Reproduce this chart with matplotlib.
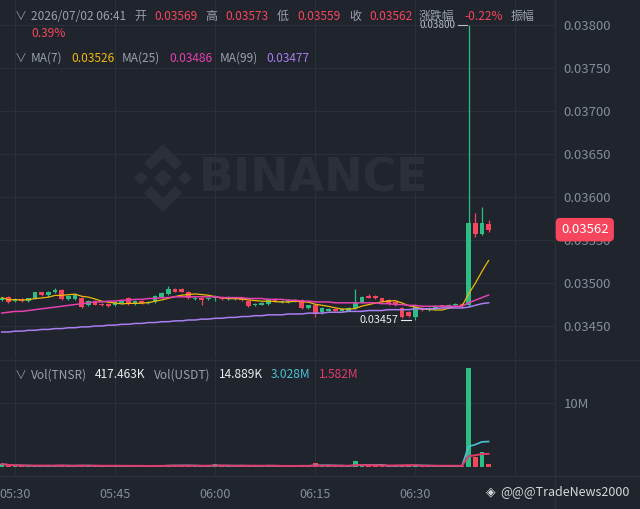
import matplotlib
matplotlib.use("Agg")
import matplotlib.pyplot as plt
from matplotlib.patches import RegularPolygon, Polygon
import numpy as np
import pandas as pd

plt.rcParams['font.family'] = ['Noto Sans CJK SC', 'DejaVu Sans']

# 1-minute candles, 05:28 .. 06:41
opens = [0.03480, 0.03484, 0.03479, 0.03481, 0.03479, 0.03482, 0.03489, 0.03486, 0.03489, 0.03492,
         0.03481, 0.03481, 0.03483, 0.03474, 0.03479, 0.03476, 0.03476, 0.03474, 0.03477, 0.03483,
         0.03476, 0.03479, 0.03477, 0.03478, 0.03484, 0.03487, 0.03493, 0.03493, 0.03490, 0.03481,
         0.03483, 0.03481, 0.03482, 0.03484, 0.03481, 0.03481, 0.03483, 0.03479, 0.03474, 0.03475,
         0.03476, 0.03481, 0.03478, 0.03478, 0.03479, 0.03480, 0.03471, 0.03474, 0.03466, 0.03468,
         0.03470, 0.03468, 0.03468, 0.03471, 0.03478, 0.03485, 0.03485, 0.03482, 0.03480, 0.03478,
         0.03471, 0.03466, 0.03461, 0.03471, 0.03469, 0.03470, 0.03474, 0.03473, 0.03474, 0.03476,
         0.03474, 0.03570, 0.03557, 0.03569]
closes = [0.03483, 0.03478, 0.03481, 0.03479, 0.03482, 0.03489, 0.03486, 0.03490, 0.03492, 0.03481,
          0.03485, 0.03486, 0.03472, 0.03479, 0.03475, 0.03474, 0.03473, 0.03478, 0.03479, 0.03476,
          0.03479, 0.03477, 0.03478, 0.03485, 0.03488, 0.03493, 0.03490, 0.03490, 0.03482, 0.03483,
          0.03480, 0.03482, 0.03482, 0.03481, 0.03482, 0.03483, 0.03480, 0.03473, 0.03476, 0.03477,
          0.03481, 0.03479, 0.03479, 0.03480, 0.03480, 0.03471, 0.03474, 0.03464, 0.03471, 0.03470,
          0.03468, 0.03470, 0.03471, 0.03478, 0.03484, 0.03483, 0.03482, 0.03479, 0.03476, 0.03474,
          0.03460, 0.03462, 0.03472, 0.03469, 0.03471, 0.03473, 0.03473, 0.03475, 0.03476, 0.03473,
          0.03570, 0.03557, 0.03570, 0.03562]
highs = [0.03484, 0.03485, 0.03482, 0.03482, 0.03483, 0.03490, 0.03490, 0.03491, 0.03494, 0.03493,
         0.03486, 0.03488, 0.03484, 0.03480, 0.03480, 0.03477, 0.03477, 0.03479, 0.03480, 0.03484,
         0.03480, 0.03480, 0.03479, 0.03486, 0.03489, 0.03496, 0.03494, 0.03494, 0.03491, 0.03484,
         0.03484, 0.03483, 0.03486, 0.03485, 0.03485, 0.03484, 0.03484, 0.03480, 0.03477, 0.03478,
         0.03483, 0.03482, 0.03480, 0.03481, 0.03481, 0.03481, 0.03475, 0.03475, 0.03472, 0.03471,
         0.03471, 0.03471, 0.03472, 0.03493, 0.03485, 0.03487, 0.03486, 0.03483, 0.03481, 0.03479,
         0.03472, 0.03467, 0.03473, 0.03472, 0.03472, 0.03474, 0.03475, 0.03476, 0.03477, 0.03477,
         0.03800, 0.03581, 0.03588, 0.03573]
lows = [0.03479, 0.03477, 0.03478, 0.03478, 0.03478, 0.03481, 0.03485, 0.03484, 0.03488, 0.03480,
        0.03480, 0.03480, 0.03471, 0.03473, 0.03474, 0.03473, 0.03472, 0.03473, 0.03476, 0.03475,
        0.03475, 0.03476, 0.03476, 0.03477, 0.03483, 0.03486, 0.03489, 0.03489, 0.03481, 0.03480,
        0.03474, 0.03480, 0.03479, 0.03480, 0.03480, 0.03480, 0.03479, 0.03472, 0.03473, 0.03474,
        0.03475, 0.03478, 0.03477, 0.03477, 0.03478, 0.03470, 0.03470, 0.03461, 0.03464, 0.03467,
        0.03467, 0.03467, 0.03467, 0.03470, 0.03477, 0.03482, 0.03481, 0.03478, 0.03475, 0.03473,
        0.03459, 0.03460, 0.03457, 0.03468, 0.03468, 0.03469, 0.03472, 0.03472, 0.03473, 0.03472,
        0.03472, 0.03553, 0.03556, 0.03559]
# volume in millions TNSR
volumes = [0.45, 0.22, 0.12, 0.18, 0.15, 0.25, 0.20, 0.16, 0.22, 0.30,
           0.18, 0.15, 0.28, 0.20, 0.14, 0.12, 0.18, 0.15, 0.20, 0.25,
           0.14, 0.10, 0.12, 0.22, 0.28, 0.35, 0.20, 0.15, 0.25, 0.18,
           0.14, 0.12, 0.45, 0.18, 0.15, 0.12, 0.20, 0.28, 0.16, 0.14,
           0.22, 0.15, 0.12, 0.14, 0.12, 0.30, 0.14, 0.55, 0.20, 0.15,
           0.12, 0.10, 0.15, 0.95, 0.25, 0.18, 0.15, 0.14, 0.20, 0.22,
           0.30, 0.25, 0.28, 0.15, 0.12, 0.14, 0.12, 0.15, 0.16, 0.12,
           15.5, 1.55, 2.3, 0.42]
# MA(25) and MA(99) (history before 05:28 not visible)
ma25 = [0.03465, 0.03466, 0.03467, 0.03467, 0.03468, 0.03469, 0.03470, 0.03471, 0.03472, 0.03473,
        0.03474, 0.03475, 0.03476, 0.03477, 0.03478, 0.03478, 0.03479, 0.03479, 0.03480, 0.03480,
        0.03481, 0.03481, 0.03482, 0.03482, 0.03483, 0.03483, 0.03484, 0.03484, 0.03484, 0.03484,
        0.03484, 0.03484, 0.03484, 0.03483, 0.03483, 0.03483, 0.03483, 0.03482, 0.03482, 0.03482,
        0.03481, 0.03481, 0.03481, 0.03480, 0.03480, 0.03479, 0.03479, 0.03478, 0.03478, 0.03478,
        0.03477, 0.03477, 0.03477, 0.03477, 0.03477, 0.03477, 0.03477, 0.03476, 0.03476, 0.03475,
        0.03475, 0.03474, 0.03474, 0.03473, 0.03473, 0.03473, 0.03473, 0.03473, 0.03473, 0.03473,
        0.03477, 0.03480, 0.03483, 0.03486]
ma99 = [0.03443, 0.03443, 0.03444, 0.03444, 0.03445, 0.03445, 0.03446, 0.03446, 0.03447, 0.03447,
        0.03448, 0.03448, 0.03449, 0.03449, 0.03450, 0.03450, 0.03451, 0.03451, 0.03452, 0.03452,
        0.03453, 0.03453, 0.03454, 0.03454, 0.03455, 0.03455, 0.03456, 0.03456, 0.03457, 0.03457,
        0.03458, 0.03458, 0.03459, 0.03459, 0.03460, 0.03460, 0.03461, 0.03461, 0.03462, 0.03462,
        0.03463, 0.03463, 0.03463, 0.03464, 0.03464, 0.03464, 0.03465, 0.03465, 0.03465, 0.03466,
        0.03466, 0.03466, 0.03467, 0.03467, 0.03467, 0.03468, 0.03468, 0.03468, 0.03469, 0.03469,
        0.03469, 0.03469, 0.03470, 0.03470, 0.03470, 0.03470, 0.03471, 0.03471, 0.03471, 0.03471,
        0.03472, 0.03474, 0.03476, 0.03477]
time_ticks = [2, 17, 32, 47, 62, 77]
time_labels = ['05:30', '05:45', '06:00', '06:15', '06:30', '']
price_ticks = [0.0345, 0.0350, 0.0355, 0.0360, 0.0365, 0.0370, 0.0375, 0.0380]

BG = '#1f242d'
GRID = '#2a2f38'
GREEN = '#2ebd85'
RED = '#f6465d'
GRAY = '#848e9c'

o = np.array(opens); c = np.array(closes); h = np.array(highs); l = np.array(lows)
v = np.array(volumes)
x = np.arange(len(o))
up = c >= o
col = np.where(up, GREEN, RED)
ma7 = pd.Series(c).rolling(7, min_periods=1).mean()
vma5 = pd.Series(v).rolling(5, min_periods=1).mean()
vma10 = pd.Series(v).rolling(10, min_periods=1).mean()

W, H = 640, 509
fig = plt.figure(figsize=(6.4, 5.09), dpi=100, facecolor=BG)

# background layer (watermark + separators)
bg = fig.add_axes([0, 0, 1, 1], zorder=0)
bg.set_xlim(0, W); bg.set_ylim(H, 0); bg.axis('off')
wm = '#2a2f39'
bg.text(314, 179, 'BINANCE', fontsize=33, fontweight='bold', ha='center', va='center',
        color=wm, family='DejaVu Sans')
cx, cy = 163, 178
bg.add_patch(RegularPolygon((cx, cy), 4, radius=8, color=wm))
bg.add_patch(RegularPolygon((cx - 22, cy), 4, radius=6, color=wm))
bg.add_patch(RegularPolygon((cx + 22, cy), 4, radius=6, color=wm))
top = [(cx, cy - 33), (cx + 18, cy - 15), (cx + 12, cy - 9), (cx, cy - 21), (cx - 12, cy - 9), (cx - 18, cy - 15)]
bg.add_patch(Polygon(top, color=wm))
bg.add_patch(Polygon([(px, 2 * cy - py) for px, py in top], color=wm))
bg.plot([555, 555], [0, H], color=GRID, lw=1)
bg.plot([0, W], [359.5, 359.5], color=GRID, lw=1)
bg.plot([0, W], [475.5, 475.5], color=GRID, lw=1)

def px2ax(left, top_, right, bottom):
    return [left / W, 1 - bottom / H, (right - left) / W, (bottom - top_) / H]

ax = fig.add_axes(px2ax(0, 0, 555, 358), zorder=1)
vax = fig.add_axes(px2ax(0, 361, 555, 475), zorder=1, sharex=ax)
for a in (ax, vax):
    a.set_facecolor('none')
    for s in a.spines.values():
        s.set_visible(False)
    a.set_xticks(time_ticks)
    a.grid(True, color=GRID, lw=0.8)
    a.set_axisbelow(True)
    a.yaxis.tick_right()
    a.tick_params(axis='y', length=0, pad=6, labelcolor=GRAY, labelsize=9.5)

ax.set_xlim(-0.255, 82.96)
ax.set_ylim(0.034128, 0.038291)
ax.set_yticks(price_ticks)
ax.set_yticklabels(['%.5f' % t for t in price_ticks])
ax.tick_params(axis='x', length=0, labelbottom=False)

# candles
ax.vlines(x, l, h, colors=col, lw=0.9, zorder=3)
body = np.maximum(np.abs(c - o), 0.000012)
ax.bar(x, body, bottom=np.minimum(o, c), width=0.7, color=col, zorder=4)

ax.plot(x, ma7, color='#f0b90b', lw=0.9, zorder=5)
ax.plot(x, ma25, color='#e440ae', lw=1.1, zorder=5)
ax.plot(x, ma99, color='#a97ef0', lw=1.1, zorder=5)

# high / low markers
ih = int(np.argmax(h)); il = int(np.argmin(l))
ax.plot([ih - 1.6, ih - 0.3], [h[ih], h[ih]], color='#b7bdc6', lw=0.8, zorder=5)
ax.text(ih - 2.0, h[ih], '%.5f' % h[ih], ha='right', va='center', fontsize=7.2, color='#b7bdc6', zorder=5)
ax.plot([il - 2.1, il - 0.7], [l[il], l[il]], color='#eaecef', lw=0.8, zorder=5)
ax.text(il - 2.5, l[il], '%.5f' % l[il], ha='right', va='center', fontsize=7.8, color='#eaecef', zorder=5)

# last price tag
ax.text(561 / 555, c[-1], '%.5f' % c[-1], transform=ax.get_yaxis_transform(), ha='left', va='center',
        fontsize=9.5, color='white', zorder=10, clip_on=False,
        bbox=dict(boxstyle='round,pad=0.4,rounding_size=0.35', fc=RED, ec='none'))

# volume pane
vax.bar(x, v, width=0.7, color=col, zorder=3)
vax.plot(x, vma5, color='#4cc1d6', lw=1.2, zorder=4)
vax.plot(x, vma10, color='#e23a6a', lw=1.4, zorder=4)
vax.set_ylim(-1.25, 16.56)
vax.set_yticks([10])
vax.set_yticklabels(['10M'])
vax.set_xticklabels(time_labels)
vax.tick_params(axis='x', length=0, pad=9.5, labelcolor=GRAY, labelsize=9)

# header texts on top layer
tx = fig.add_axes([0, 0, 1, 1], zorder=2)
tx.set_xlim(0, W); tx.set_ylim(H, 0); tx.axis('off')
fs = 8.6
LBL = '#9aa1ac'

def put(xp, yp, s, color):
    tx.text(xp, yp, s, fontsize=fs, color=color, ha='left', va='center')

put(15, 16, '∨', GRAY)
put(31, 16, '2026/07/02 06:41', LBL)
for xp, s, colr in [(134, '开', LBL), (154, '0.03569', RED), (205, '高', LBL), (225, '0.03573', RED),
                    (277, '低', LBL), (297, '0.03559', RED), (349, '收', LBL), (369, '0.03562', RED),
                    (419, '涨跌幅', LBL), (464, '-0.22%', RED), (511, '振幅', LBL)]:
    put(xp, 16, s, colr)
put(31, 33, '0.39%', RED)

put(15, 58, '∨', GRAY)
for xp, s, colr in [(31, 'MA(7)', LBL), (71, '0.03526', '#f0b90b'), (122, 'MA(25)', LBL),
                    (169, '0.03486', '#e440ae'), (220, 'MA(99)', LBL), (266, '0.03477', '#a97ef0')]:
    put(xp, 58, s, colr)

put(15, 375, '∨', GRAY)
for xp, s, colr in [(31, 'Vol(TNSR)', LBL), (95, '417.463K', '#eaecef'), (154, 'Vol(USDT)', LBL),
                    (219, '14.889K', '#eaecef'), (271, '3.028M', '#4cc1d6'), (319, '1.582M', '#e23a6a')]:
    put(xp, 375, s, colr)

# watermark bottom right
tx.text(486, 492, '◈', fontsize=9, color='#d5d8dc', ha='left', va='center', family=['DejaVu Sans'])
tx.text(500, 492, '@@@TradeNews2000', fontsize=9, color='#d5d8dc', ha='left', va='center')

fig.savefig('out.png', dpi=100, facecolor=BG)
